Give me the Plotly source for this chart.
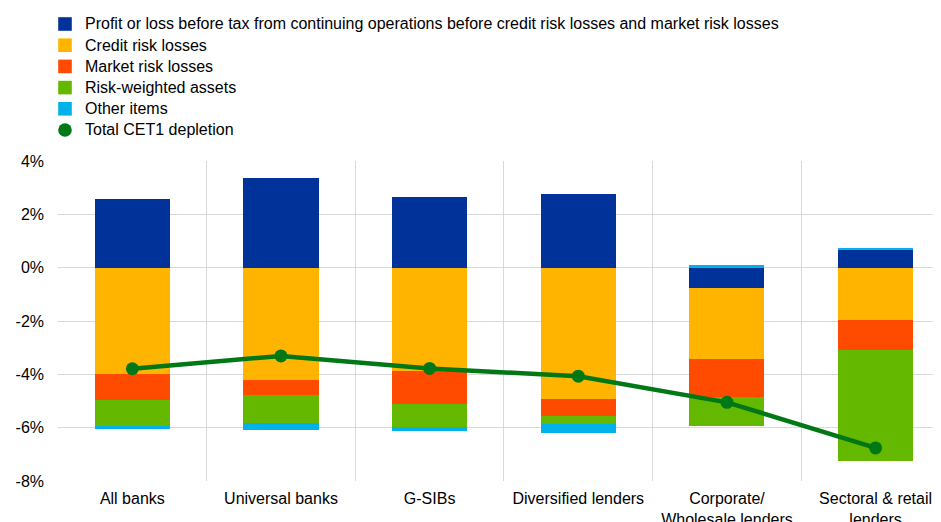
import plotly.graph_objects as go

categories = ["All banks", "Universal banks", "G-SIBs", "Diversified lenders",
              "Corporate/<br>Wholesale lenders", "Sectoral & retail<br>lenders"]
profit = [2.59, 3.37, 2.64, 2.76, -0.77, 0.67]
credit = [-3.98, -4.22, -3.89, -4.92, -2.66, -1.98]
market = [-0.99, -0.56, -1.22, -0.66, -1.41, -1.10]
rwa = [-0.95, -1.06, -0.88, -0.30, -1.08, -4.18]
other = [-0.12, -0.23, -0.14, -0.31, 0.09, 0.04]
total = [-3.79, -3.31, -3.78, -4.07, -5.05, -6.76]
y_tickvals = [4, 2, 0, -2, -4, -6, -8]
y_ticktext = ["4%", "2%", "0%", "-2%", "-4%", "-6%", "-8%"]

names = ["Profit or loss before tax from continuing operations before credit risk losses and market risk losses",
         "Credit risk losses", "Market risk losses", "Risk-weighted assets", "Other items"]
total_name = "Total CET1 depletion"
colors = ["#003299", "#FFB400", "#FF4B00", "#65B800", "#00B1EA"]
line_color = "#007816"
series = [profit, credit, market, rwa, other]

fig = go.Figure()
for n, c, s in zip(names, colors, series):
    fig.add_trace(go.Bar(x=categories, y=s, name=n, marker=dict(color=c, line=dict(width=0)),
                         width=0.505, showlegend=False))

fig.add_trace(go.Scatter(x=categories, y=total, mode="lines+markers", name=total_name,
                         showlegend=False,
                         line=dict(color=line_color, width=4.5),
                         marker=dict(color=line_color, size=13)))

# Manual legend (pixel-positioned, page coords -> paper coords)
PLOT_L, PLOT_W, PLOT_B, PLOT_H = 58, 883, 481, 320
def px(x):
    return (x - PLOT_L) / PLOT_W
def py(y):
    return (PLOT_B - y) / PLOT_H

row_y = [24, 45.2, 66.4, 87.6, 108.8, 130]
labels = names + [total_name]
swatches = colors + [line_color]
shapes = []
annotations = []
for i, (lab, col, yc) in enumerate(zip(labels, swatches, row_y)):
    shapes.append(dict(type="circle" if i == 5 else "rect", xref="paper", yref="paper",
                       xsizemode="pixel", ysizemode="pixel",
                       xanchor=px(65), yanchor=py(yc),
                       x0=-6.8, x1=6.8, y0=-6.8, y1=6.8,
                       fillcolor=col, line=dict(width=0), layer="above"))
    annotations.append(dict(text=lab, xref="paper", yref="paper", x=px(83), y=py(yc),
                            xanchor="left", yanchor="middle", showarrow=False,
                            font=dict(size=16, color="#000000")))

fig.update_layout(
    width=941, height=522,
    margin=dict(l=50, r=8, t=153, b=49, autoexpand=False),
    barmode="relative",
    bargap=0,
    showlegend=False,
    shapes=shapes,
    annotations=annotations,
    paper_bgcolor="white", plot_bgcolor="white",
    font=dict(family="Arial, Liberation Sans, sans-serif", size=16, color="#000000"),
    xaxis=dict(type="category", range=[-0.5, 5.44], tickson="boundaries",
               showgrid=True, gridcolor="#d9d9d9", gridwidth=1, automargin=False,
               ticks="", showline=False, zeroline=False, ticklabelstandoff=6,
               tickfont=dict(size=16)),
    yaxis=dict(range=[-8, 4], tickvals=y_tickvals, ticktext=y_ticktext, showgrid=True,
               automargin=False,
               gridcolor="#d9d9d9", gridwidth=1, zeroline=True, zerolinecolor="#d9d9d9",
               zerolinewidth=1, showline=False, ticks="", ticklabelstandoff=13,
               tickfont=dict(size=16)),
)

fig.write_html("out.html")
